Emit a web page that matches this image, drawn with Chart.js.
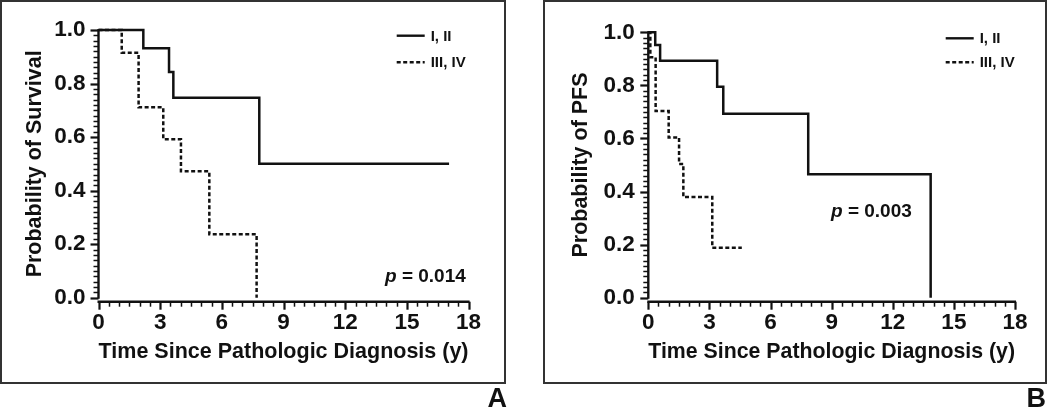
<!DOCTYPE html>
<html><head><meta charset="utf-8">
<script src="https://cdn.jsdelivr.net/npm/chart.js@4"></script>
<style>
html,body{margin:0;padding:0;background:#fff;}
body{width:1050px;height:409px;position:relative;overflow:hidden;font-family:'Liberation Sans',Arial,sans-serif;}
.box{position:absolute;border:2px solid #333;box-sizing:border-box;}
#boxA{left:0;top:0;width:506px;height:384px;}
#boxB{left:543px;top:0;width:504px;height:384px;}
canvas{position:absolute;top:0;}
#cA{left:0;}
#cB{left:525px;}
.lbl{position:absolute;top:385px;font-weight:bold;font-size:27px;line-height:27px;text-align:right;width:40px;color:#111;}
</style></head>
<body>
<div class="box" id="boxA"></div>
<div class="box" id="boxB"></div>
<canvas id="cA" width="525" height="384"></canvas>
<canvas id="cB" width="525" height="384"></canvas>
<div class="lbl" style="left:467px;">A</div>
<div class="lbl" style="left:1006px;">B</div>
<script>
// ---- data ----
const xTicks = [0, 3, 6, 9, 12, 15, 18];
const yTicks = [0, 0.2, 0.4, 0.6, 0.8, 1.0];
const seriesNames = ['I, II', 'III, IV'];
const xTitle = 'Time Since Pathologic Diagnosis (y)';
const yTitles = ['Probability of Survival', 'Probability of PFS'];
const pValues = ['0.014', '0.003'];

// Panel A: overall survival
const timeA_I   = [0, 2.18, 3.43, 3.64, 7.82, 17.05];
const survA_I   = [1.0, 0.932, 0.843, 0.747, 0.5, 0.5];
const timeA_III = [0, 1.13, 1.95, 3.15, 4.01, 5.39, 7.69];
const survA_III = [1.0, 0.915, 0.711, 0.592, 0.472, 0.237, 0.0];

// Panel B: progression-free survival
const timeB_I   = [0, 0.34, 0.58, 3.38, 3.68, 7.85, 13.86];
const survB_I   = [1.0, 0.952, 0.893, 0.795, 0.693, 0.465, 0.0];
const timeB_III = [0, 0.10, 0.36, 1.00, 1.51, 1.72, 3.14, 4.59];
const survB_III = [1.0, 0.906, 0.703, 0.604, 0.504, 0.379, 0.188, 0.188];

// ---- drawing ----
const FONT = "'Liberation Sans', Arial, Helvetica, sans-serif";
const INK = '#111';

function pts(t, s) { return t.map((v, i) => ({x: v, y: s[i]})); }

const decorPlugin = {
  id: 'kmDecor',
  afterDraw(chart) {
    const o = chart.options.plugins.kmDecor;
    const {ctx} = chart;
    const x = chart.scales.x, y = chart.scales.y;
    const x0 = x.getPixelForValue(0), x1 = x.getPixelForValue(18);
    const yTop = y.getPixelForValue(1), yBot = y.getPixelForValue(0);
    const xAxisY = yBot + o.gap;
    ctx.save();
    ctx.strokeStyle = INK;
    ctx.lineCap = 'butt';
    // y axis
    ctx.lineWidth = 2.4;
    ctx.beginPath(); ctx.moveTo(x0, yTop - 1); ctx.lineTo(x0, yBot + 1); ctx.stroke();
    for (let i = 0; i <= 50; i++) {
      const py = Math.round(y.getPixelForValue(i / 50)) + 0.5;
      const major = i % 10 === 0;
      ctx.lineWidth = major ? 2.2 : 1.5;
      ctx.beginPath(); ctx.moveTo(x0 - (major ? 8 : 5), py); ctx.lineTo(x0, py); ctx.stroke();
    }
    // x axis
    ctx.lineWidth = 2.4;
    ctx.beginPath(); ctx.moveTo(x0 - 1, xAxisY); ctx.lineTo(x1 + 1, xAxisY); ctx.stroke();
    for (let i = 0; i <= 36; i++) {
      const px = Math.round(x.getPixelForValue(i * 0.5)) + 0.5;
      const major = i % 6 === 0;
      ctx.lineWidth = major ? 2.2 : 1.5;
      ctx.beginPath(); ctx.moveTo(px, xAxisY); ctx.lineTo(px, xAxisY + (major ? 8 : 5)); ctx.stroke();
    }
    // legend
    ctx.font = 'bold 15px ' + FONT;
    ctx.fillStyle = INK;
    ctx.textBaseline = 'middle';
    ctx.textAlign = 'left';
    chart.data.datasets.forEach((ds, i) => {
      const ly = o.legY[i];
      ctx.lineWidth = 2.4;
      ctx.setLineDash(ds.borderDash || []);
      ctx.beginPath(); ctx.moveTo(o.legX, ly); ctx.lineTo(o.legX + o.legLen, ly); ctx.stroke();
      ctx.setLineDash([]);
      ctx.fillText(ds.label, o.legX + o.legLen + 6, ly + 1);
    });
    // p value
    ctx.font = 'italic bold 19px ' + FONT;
    ctx.fillText('p', o.pX, o.pY);
    const w = ctx.measureText('p').width;
    ctx.font = 'bold 19px ' + FONT;
    ctx.fillText(' = ' + o.pText, o.pX + w, o.pY);
    ctx.restore();
  }
};

function makeChart(id, g, d1, d2, yTitle, pText) {
  const tickFont = {family: FONT, size: 22.5, weight: 'bold'};
  const titleFont = {family: FONT, size: 21.5, weight: 'bold'};
  return new Chart(document.getElementById(id), {
    type: 'line',
    data: {datasets: [
      {label: seriesNames[0], data: d1, borderColor: INK, borderWidth: 2.5, stepped: 'before',
       pointRadius: 0, fill: false, clip: false, borderDash: []},
      {label: seriesNames[1], data: d2, borderColor: INK, borderWidth: 2.5, stepped: 'before',
       pointRadius: 0, fill: false, clip: false, borderDash: [4, 2.5]}
    ]},
    options: {
      responsive: false, animation: false, devicePixelRatio: 1,
      layout: {padding: {left: 0, top: g.top, right: g.right, bottom: 0}},
      plugins: {
        legend: {display: false}, tooltip: {enabled: false},
        kmDecor: {gap: 4, legX: g.legX, legLen: 28, legY: g.legY, pX: g.pX, pY: g.pY, pText: pText}
      },
      scales: {
        x: {
          type: 'linear', min: 0, max: 18,
          afterBuildTicks: s => { s.ticks = xTicks.map(v => ({value: v})); },
          ticks: {font: tickFont, color: INK, padding: g.xPad, maxRotation: 0, autoSkip: false,
                  callback: v => String(v)},
          grid: {display: false, drawTicks: false}, border: {display: false},
          title: {display: true, text: xTitle, font: titleFont, color: INK,
                  padding: {top: 0, bottom: g.xTitlePad}},
          afterFit: s => { s.height = g.xH; }
        },
        y: {
          type: 'linear', min: 0, max: 1,
          afterBuildTicks: s => { s.ticks = yTicks.map(v => ({value: v})); },
          ticks: {font: tickFont, color: INK, padding: g.yPad, autoSkip: false,
                  callback: v => Number(v).toFixed(1)},
          grid: {display: false, drawTicks: false}, border: {display: false},
          title: {display: true, text: yTitle, font: titleFont, color: INK,
                  padding: {top: g.yTitlePad, bottom: 0}},
          afterFit: s => { s.width = g.yW; }
        }
      }
    },
    plugins: [decorPlugin]
  });
}

makeChart('cA', {top: 30, right: 56.4, yW: 98.5, xH: 86.3, xPad: 12, yPad: 13, 
                 xTitlePad: 19, yTitlePad: 22.4, legX: 396.7, legY: [35.7, 62.3], pX: 385, pY: 277},
          pts(timeA_I, survA_I), pts(timeA_III, survA_III), yTitles[0], pValues[0]);
makeChart('cB', {top: 32.3, right: 35, yW: 123.3, xH: 86.3, xPad: 12, yPad: 13.5,
                 xTitlePad: 19, yTitlePad: 43.4, legX: 420.7, legY: [38.3, 62.3], pX: 306, pY: 212},
          pts(timeB_I, survB_I), pts(timeB_III, survB_III), yTitles[1], pValues[1]);
</script>
</body></html>
